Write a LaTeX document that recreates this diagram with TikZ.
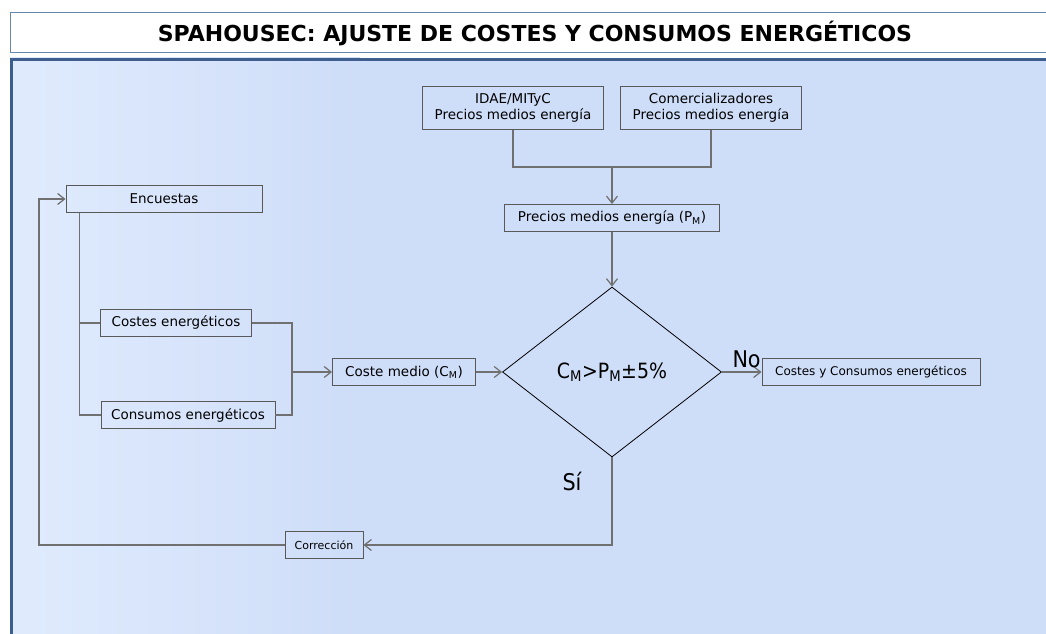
\documentclass[tikz,border=0pt]{standalone}
\usepackage{fontspec}
\setmainfont{DejaVu Sans}
\newfontfamily\condfont{DejaVu Sans Condensed}
\usetikzlibrary{arrows.meta,shapes.geometric}
\definecolor{panelLight}{HTML}{E0EBFD}
\definecolor{panelDark}{HTML}{CEDDF8}
\definecolor{panelEdge}{HTML}{3E5E8E}
\definecolor{titleEdge}{HTML}{6A86AE}
\definecolor{wire}{HTML}{707070}
\tikzset{%
  >={Straight Barb[length=7pt,width=11pt]},
  % Specifications for style of nodes:
          base/.style = {rectangle, draw=black!65, line width=0.9pt,
                         inner sep=0pt, align=center,
                         font=\fontsize{13.5}{16}\selectfont},
        source/.style = {base, minimum width=181pt, minimum height=43pt},
       process/.style = {base, minimum height=27pt},
         small/.style = {base, minimum height=27pt,
                         font=\fontsize{12}{14}\selectfont},
      decision/.style = {diamond, draw=black, line width=0.8pt, inner sep=0pt,
                         minimum width=219pt, minimum height=170pt,
                         font=\condfont\fontsize{21}{24}\selectfont},
        answer/.style = {font=\condfont\fontsize{23}{26}\selectfont, inner sep=0pt},
          wire/.style = {draw=wire, line width=1.2pt},
}

\begin{document}
\begin{tikzpicture}[x=1pt, y=-1pt]
  \useasboundingbox (0,0) rectangle (1046,634);
  % Title and panel
  \fill[white] (0,0) rectangle (1046,634);
  \draw[titleEdge, line width=1pt] (1050,13) -- (10,13) -- (10,53) -- (1050,53);
  \node (title) at (535,34)
        {\fontsize{22}{24}\selectfont\bfseries SPAHOUSEC: AJUSTE DE COSTES Y CONSUMOS ENERGÉTICOS};
  \shade[left color=panelLight, right color=panelDark] (10,58) rectangle (360,634);
  \fill[panelDark] (359.5,58) rectangle (1046,634);
  \draw[panelEdge, line width=3pt] (11.5,634) -- (11.5,59.5) -- (1046,59.5);

  % Specification of nodes (position, etc.)
  \node (idae)      [source]                  at (513,108) {IDAE/MITyC\\Precios medios energía};
  \node (comerc)    [source]                  at (711,108) {Comercializadores\\Precios medios energía};
  \node (precios)   [process, minimum width=215pt] at (612,218) {Precios medios energía (P\textsubscript{M})};
  \node (cond)      [decision]                at (612,372) {C\textsubscript{M}>P\textsubscript{M}±5\%};
  \node (final)     [small, minimum width=218pt]   at (871,372) {Costes y Consumos energéticos};
  \node (encuestas) [process, minimum width=196pt] at (164,199) {Encuestas};
  \node (costes)    [process, minimum width=151pt] at (176,323) {Costes energéticos};
  \node (consumos)  [process, minimum width=174pt] at (188,415) {Consumos energéticos};
  \node (coste)     [process, minimum width=143pt] at (404,372) {Coste medio (C\textsubscript{M})};
  \node (corr)      [small, minimum width=78pt, font=\fontsize{11}{13}\selectfont] at (324,545) {Corrección};

  \coordinate (join)  at (612,167);
  \coordinate (merge) at (292,372);
  \coordinate (back)  at (39,199);

  \draw[wire]      (idae.south) |- (join) -| (comerc.south);
  \draw[wire,->]   (join) -- (precios.north);
  \draw[wire,->]   (precios.south) -- (cond.north);
  \draw[wire,->]   (cond.east) -- node[answer, pos=0, anchor=base west, xshift=10pt, yshift=5pt] {No} (final.west);
  \draw[wire,->]   (cond.south) |- node[answer, pos=0, anchor=base east, xshift=-30pt, yshift=-33pt] {Sí} (corr.east);
  \draw[wire,->]   (corr.west) -| (back) -- (encuestas.west);
  \draw[wire]      ([xshift=14pt]encuestas.south west) |- (consumos.west);
  \draw[wire]      ([xshift=14pt]encuestas.south west |- costes.west) -- (costes.west);
  \draw[wire]      (costes.east) -| (merge) |- (consumos.east);
  \draw[wire,->]   (merge) -- (coste.west);
  \draw[wire,->]   (coste.east) -- (cond.west);
\end{tikzpicture}
\end{document}
